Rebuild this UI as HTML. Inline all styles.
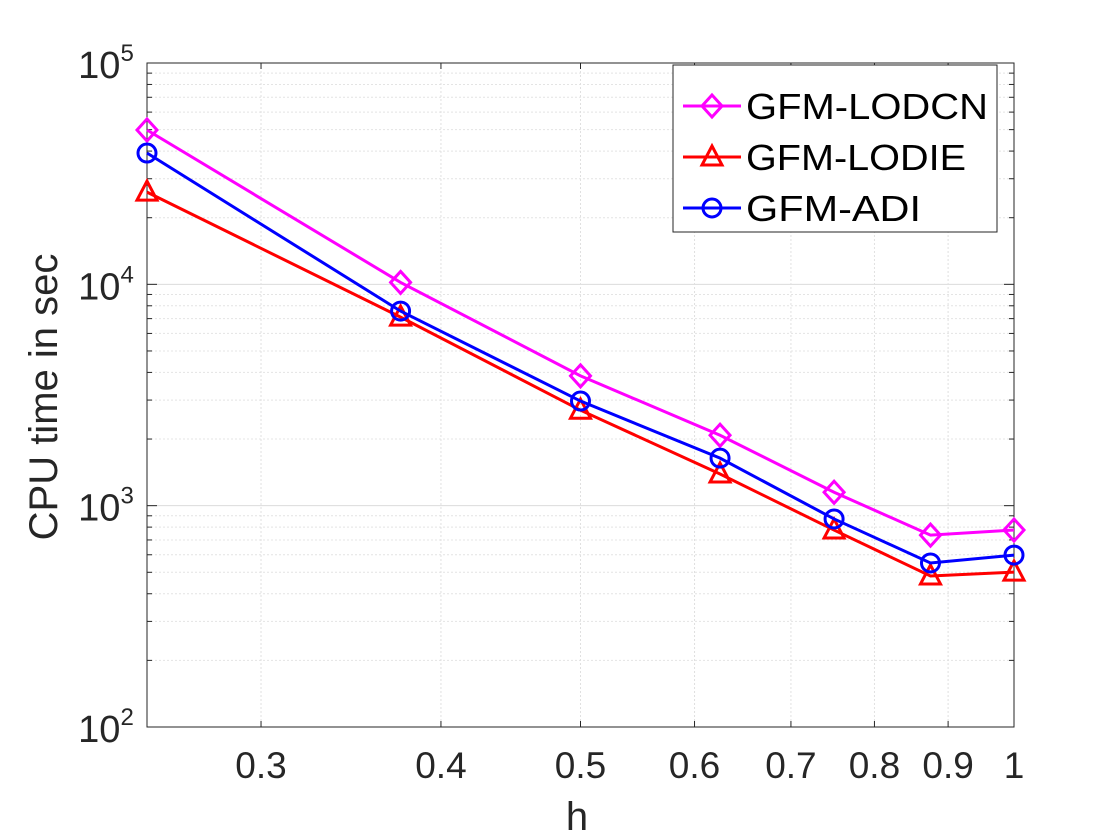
<!DOCTYPE html>
<html><head><meta charset="utf-8"><style>
body{margin:0;background:#fff;}
svg{display:block;font-family:"Liberation Sans",Arial,sans-serif;}
</style></head><body>
<svg id="chart" width="1120" height="840">
<rect x="0" y="0" width="1120" height="840" fill="#fff"/>
<g id="grid"></g>
<g id="axes"></g>
<g id="series"></g>
<g id="legend"></g>
</svg>
<script>
const hValues=[0.25,0.375,0.5,0.625,0.75,0.875,1];
const lodcn=[49800,10200,3860,2080,1150,736,776];
const lodie=[26100,7110,2700,1390,776,481,501];
const adi=[39200,7570,2970,1640,871,551,598];
const xTicks=[0.3,0.4,0.5,0.6,0.7,0.8,0.9,1];
const xTickLabels=["0.3","0.4","0.5","0.6","0.7","0.8","0.9","1"];
const yDecades=[2,3,4,5];

const NS="http://www.w3.org/2000/svg";
const L=147,R=1014,T=63,B=727;
const xmin=Math.log10(0.25),xmax=0;
const ymin=2,ymax=5;
function X(v){return L+(Math.log10(v)-xmin)/(xmax-xmin)*(R-L);}
function Y(v){return B-(Math.log10(v)-ymin)/(ymax-ymin)*(B-T);}
function el(tag,attrs,parent,text){const e=document.createElementNS(NS,tag);for(const k in attrs)e.setAttribute(k,attrs[k]);if(text!==undefined)e.textContent=text;parent.appendChild(e);return e;}
const grid=document.getElementById('grid'),axes=document.getElementById('axes'),series=document.getElementById('series'),legend=document.getElementById('legend');

for(let d=2;d<5;d++){for(let m=1;m<10;m++){const v=m*Math.pow(10,d);const y=Y(v);
 const g=el('line',{x1:L,x2:R,y1:y,y2:y,stroke:m===1?'#dcdcdc':'#e4e4e4','stroke-dasharray':m===1?'':'2,2'},grid);
 
 el('line',{x1:L,x2:L+(m===1?10:5),y1:y,y2:y,stroke:'#262626'},axes);
 el('line',{x1:R,x2:R-(m===1?10:5),y1:y,y2:y,stroke:'#262626'},axes);
}}
xTicks.forEach((v,i)=>{const x=X(v);
 const g=el('line',{x1:x,x2:x,y1:T,y2:B,stroke:'#e0e0e0','stroke-dasharray':'2,2'},grid);
 
 el('line',{x1:x,x2:x,y1:B,y2:B-6,stroke:'#262626'},axes);
 el('line',{x1:x,x2:x,y1:T,y2:T+6,stroke:'#262626'},axes);
 const t=el('text',{x:x,y:778,'font-size':37,'text-anchor':'middle',fill:'#262626'},axes,xTickLabels[i]);
 
});
el('rect',{x:L,y:T,width:R-L,height:B-T,fill:'none',stroke:'#262626','stroke-width':1},axes);
yDecades.forEach(d=>{const y=Y(Math.pow(10,d));
 const t=el('text',{x:106,y:y+15,'font-size':38,'text-anchor':'middle',fill:'#262626'},axes);
 
 el('tspan',{},t,'10');el('tspan',{'font-size':24,dy:-17},t,String(d));
});
const xl=el('text',{x:577,y:830,'font-size':40,'text-anchor':'middle',fill:'#262626'},axes,'h');

const yl=el('text',{x:0,y:0,'font-size':40,'text-anchor':'middle',fill:'#262626',transform:'translate(57,397) rotate(-90)'},axes,'CPU time in sec');


function marker(type,x,y,color,parent){
 if(type==='d')return el('polygon',{points:`${x},${y-11} ${x+10},${y} ${x},${y+11} ${x-10},${y}`,fill:'none',stroke:color,'stroke-width':3},parent);
 if(type==='t')return el('polygon',{points:`${x},${y-11} ${x+10},${y+8} ${x-10},${y+8}`,fill:'none',stroke:color,'stroke-width':3},parent);
 return el('circle',{cx:x,cy:y,r:9,fill:'none',stroke:color,'stroke-width':3},parent);
}
const defs=[[lodcn,'#ff00ff','d','series-gfm-lodcn'],[lodie,'#ff0000','t','series-gfm-lodie'],[adi,'#0000ff','o','series-gfm-adi']];
defs.forEach(([vals,c,m,name])=>{
 const g=el('g',{},series);
 
 el('polyline',{points:vals.map((v,i)=>X(hValues[i])+','+Y(v)).join(' '),fill:'none',stroke:c,'stroke-width':3},g);
 vals.forEach((v,i)=>{const mk=marker(m,X(hValues[i]),Y(v),c,g);});
});
const lb=el('rect',{x:673,y:65,width:324,height:167,fill:'#fff',stroke:'#262626','stroke-width':1},legend);

const labels=['GFM-LODCN','GFM-LODIE','GFM-ADI'];
defs.forEach(([v,c,m],i)=>{const y=106+i*51;
 const g=el('g',{},legend);
 el('line',{x1:683,x2:741,y1:y,y2:y,stroke:c,'stroke-width':3},g);
 marker(m,712,y,c,g);
 el('text',{x:746,y:y+13,'font-size':36,fill:'#000',textLength:i===0?242:(i===1?220:175),lengthAdjust:'spacingAndGlyphs'},g,labels[i]);
});
</script>
</body></html>
